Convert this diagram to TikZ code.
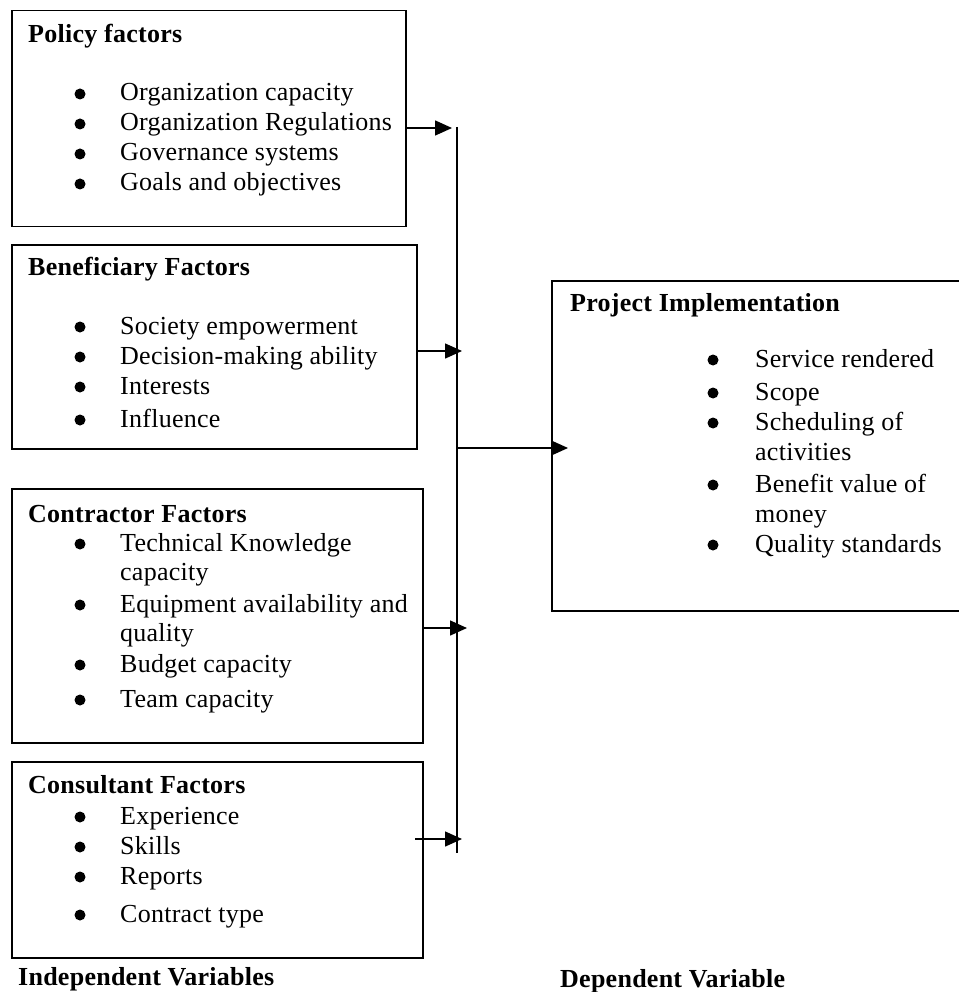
\documentclass[tikz,border=0pt]{standalone}
\usepackage{fontspec}
\setmainfont[LetterSpace=1]{Liberation Serif}
\usetikzlibrary{arrows.meta}
\tikzset{
  box/.style={draw, line width=1.5pt, rectangle, anchor=north west, inner sep=0pt},
  ttl/.style={anchor=base west, inner sep=0pt, font=\fontsize{26}{30}\selectfont\bfseries},
  txt/.style={anchor=base west, inner sep=0pt, font=\fontsize{26}{30}\selectfont},
  bul/.style={circle, fill=black, draw=none, inner sep=0pt, minimum size=11pt},
  arr/.style={line width=1.5pt, -{Triangle[length=17pt,width=15pt]}},
  conn/.style={line width=1.5pt}
}
\newcommand\itm[5]{\node[bul] (#1b) at (#2,#4-7) {}; \node[txt] (#1) at (#3,#4) {#5};}
\newcommand\cnt[4]{\node[txt] (#1) at (#2,#3) {#4};}
\begin{document}
\begin{tikzpicture}[x=1pt,y=-1pt]
\fill[white] (0,0) rectangle (958,992);
\useasboundingbox (0,0) rectangle (958,992);

% Boxes
\node[box, minimum width=394pt, minimum height=216pt] (b1) at (11,10) {};
\node[box, minimum width=405pt, minimum height=204pt] (b2) at (11,244) {};
\node[box, minimum width=411pt, minimum height=254pt] (b3) at (11,488) {};
\node[box, minimum width=411pt, minimum height=196pt] (b4) at (11,761) {};
\node[box, minimum width=430pt, minimum height=330pt] (pj) at (551,280) {};

% Box 1
\node[ttl] (t1) at (28,43) {Policy factors};
\itm{a1}{80}{120}{101}{Organization capacity}
\itm{a2}{80}{120}{131}{Organization Regulations}
\itm{a3}{80}{120}{161}{Governance systems}
\itm{a4}{80}{120}{191}{Goals and objectives}

% Box 2
\node[ttl] (t2) at (28,275) {Beneficiary Factors};
\itm{c1}{80}{120}{334}{Society empowerment}
\itm{c2}{80}{120}{364}{Decision-making ability}
\itm{c3}{80}{120}{394}{Interests}
\itm{c4}{80}{120}{427}{Influence}

% Box 3
\node[ttl] (t3) at (28,522) {Contractor Factors};
\itm{d1}{80}{120}{551}{Technical Knowledge}
\cnt{d1x}{120}{580}{capacity}
\itm{d2}{80}{120}{612}{Equipment availability and}
\cnt{d2x}{120}{641}{quality}
\itm{d3}{80}{120}{672}{Budget capacity}
\itm{d4}{80}{120}{707}{Team capacity}

% Box 4
\node[ttl] (t4) at (28,793) {Consultant Factors};
\itm{e1}{80}{120}{824}{Experience}
\itm{e2}{80}{120}{854}{Skills}
\itm{e3}{80}{120}{884}{Reports}
\itm{e4}{80}{120}{922}{Contract type}

% Project box
\node[ttl] (t5) at (570,311) {Project Implementation};
\itm{f1}{713}{755}{367}{Service rendered}
\itm{f2}{713}{755}{400}{Scope}
\itm{f3}{713}{755}{430}{Scheduling of}
\cnt{f3x}{755}{460}{activities}
\itm{f4}{713}{755}{492}{Benefit value of}
\cnt{f4x}{755}{522}{money}
\itm{f5}{713}{755}{552}{Quality standards}

% Footer labels
\node[ttl] (iv) at (18,985) {Independent Variables};
\node[ttl] (dv) at (560,987) {Dependent Variable};

% Connectors
\coordinate (bustop) at (457,127);
\coordinate (busbot) at (457,853);
\draw[conn] (bustop) -- (busbot);

\coordinate (k1) at (452,128);
\coordinate (k2) at (462,351);
\coordinate (k3) at (467,628);
\coordinate (s4) at (415,839);
\coordinate (k4) at (462,839);
\coordinate (m0) at (457,448);
\coordinate (k5) at (568,448);

\draw[arr] (b1.east |- k1) -- (k1);
\draw[arr] (b2.east |- k2) -- (k2);
\draw[arr] (b3.east |- k3) -- (k3);
\draw[arr] (s4) -- (k4);
\draw[arr] (m0) -- (k5);
\end{tikzpicture}
\end{document}
